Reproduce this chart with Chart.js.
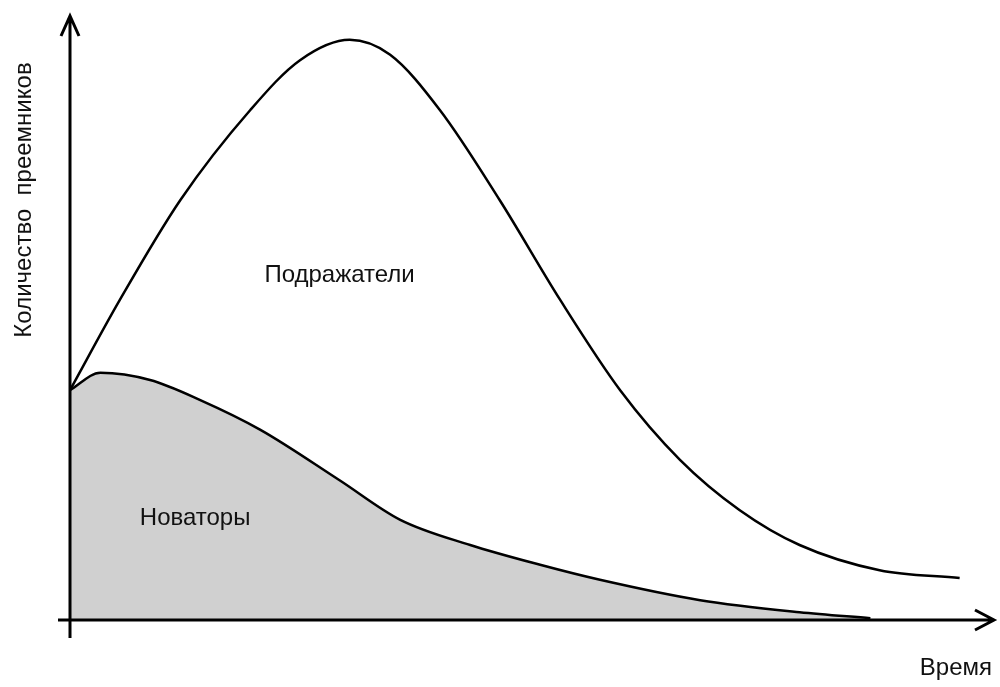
<!DOCTYPE html>
<html>
<head>
<meta charset="utf-8">
<script src="https://cdn.jsdelivr.net/npm/chart.js@4"></script>
<style>
  html, body { margin: 0; padding: 0; background: #fff; }
  #wrap { width: 1000px; height: 687px; }
</style>
</head>
<body>
<div id="wrap"><canvas id="chart"></canvas></div>
<script>
// ----------------------
// DATA (time 0..100, adopters 0..100)
// ----------------------
const imitatorX = [0, 5.4, 12, 19.6, 25, 30.4, 34.8, 40.2, 46.7, 53.3, 59.8, 66.3, 72.8, 79.3, 88, 96.7];
const imitatorY = [38.3, 53.3, 70, 85, 93.3, 96.7, 94.2, 85, 70, 53.3, 38.3, 26.7, 18.3, 12.5, 8.3, 7];
const innovatorX = [0, 3.3, 8.7, 14.1, 20.7, 29.3, 35.9, 43.5, 51.1, 57.6, 68.5, 79.3, 87];
const innovatorY = [38.3, 41.2, 40, 36.7, 31.7, 23.3, 16.7, 12.5, 9.2, 6.7, 3.3, 1.3, 0.3];

const labelImitators = "Подражатели";
const labelInnovators = "Новаторы";
const axisX = "Время";
const axisY = "Количество  преемников";

const toPoints = (xs, ys) => xs.map((x, i) => ({ x, y: ys[i] }));

// ----------------------
// AXES + LABELS
// ----------------------
const decor = {
  id: "decor",
  afterDatasetsDraw(chart) {
    const { ctx, scales: { x, y } } = chart;
    const x0 = x.getPixelForValue(0), y0 = y.getPixelForValue(0);
    ctx.save();
    ctx.strokeStyle = "#000";
    ctx.lineWidth = 3;
    ctx.beginPath();
    ctx.moveTo(x0, y0 + 18); ctx.lineTo(x0, 16);
    ctx.moveTo(x0 - 12, y0); ctx.lineTo(994, y0);
    // arrow heads
    ctx.moveTo(x0 - 9, 36); ctx.lineTo(x0, 16); ctx.lineTo(x0 + 9, 36);
    ctx.moveTo(975, y0 - 10); ctx.lineTo(994, y0); ctx.lineTo(975, y0 + 10);
    ctx.stroke();

    ctx.fillStyle = "#111";
    ctx.font = "24px 'Liberation Sans', Arial, sans-serif";
    ctx.textBaseline = "middle";
    ctx.textAlign = "center";
    ctx.fillText(labelImitators, x.getPixelForValue(29.3), y.getPixelForValue(57.5));
    ctx.fillText(labelInnovators, x.getPixelForValue(13.6), y.getPixelForValue(17));
    ctx.textAlign = "right";
    ctx.fillText(axisX, 992, 668);
    ctx.translate(24, 200);
    ctx.rotate(-Math.PI / 2);
    ctx.textAlign = "center";
    ctx.fillText(axisY, 0, 0);
    ctx.restore();
  }
};

// ----------------------
// CHART
// ----------------------
new Chart(document.getElementById("chart"), {
  type: "line",
  data: {
    datasets: [
      {
        data: toPoints(innovatorX, innovatorY),
        borderColor: "#000",
        borderWidth: 2.5,
        backgroundColor: "#d0d0d0",
        fill: "origin",
        pointRadius: 0,
        cubicInterpolationMode: "monotone"
      },
      {
        data: toPoints(imitatorX, imitatorY),
        borderColor: "#000",
        borderWidth: 2.5,
        fill: false,
        pointRadius: 0,
        cubicInterpolationMode: "monotone"
      }
    ]
  },
  options: {
    responsive: true,
    maintainAspectRatio: false,
    animation: false,
    layout: { padding: { left: 70, right: 10, top: 20, bottom: 67 } },
    plugins: { legend: { display: false }, tooltip: { enabled: false } },
    scales: {
      x: { type: "linear", min: 0, max: 100, display: false },
      y: { min: 0, max: 100, display: false }
    }
  },
  plugins: [decor]
});
</script>
</body>
</html>
